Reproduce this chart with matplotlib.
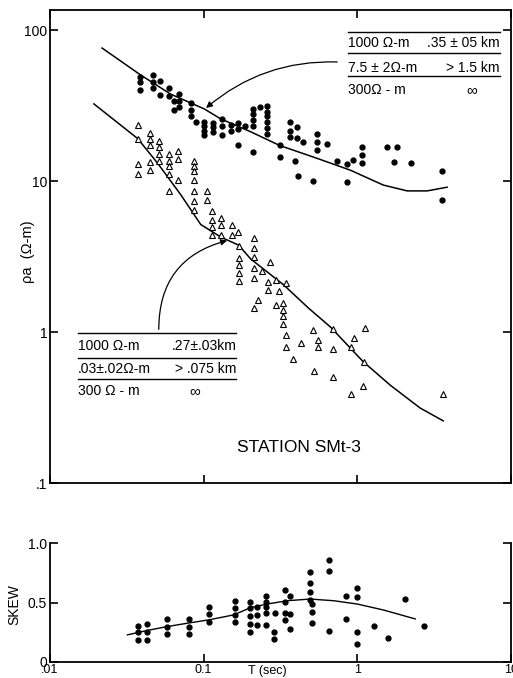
import numpy as np
import matplotlib
matplotlib.use("Agg")
import matplotlib.pyplot as plt

plt.rcParams["font.family"] = ["Liberation Sans", "DejaVu Sans"]

# apparent resistivity, dots (upper set)
dot_t = [0.0384, 0.0384, 0.0384, 0.047, 0.047, 0.047, 0.0518, 0.0518, 0.0597, 0.0597,
         0.0638, 0.069, 0.069, 0.0638, 0.069, 0.083, 0.083, 0.083, 0.0887,
         0.101, 0.101, 0.101, 0.101, 0.115, 0.115, 0.115, 0.132, 0.132, 0.132,
         0.15, 0.15, 0.168, 0.168, 0.187, 0.208, 0.208, 0.208, 0.208, 0.234, 0.168, 0.208,
         0.26, 0.26, 0.26, 0.26, 0.26, 0.26, 0.312, 0.312,
         0.362, 0.362, 0.407, 0.362, 0.407, 0.446, 0.395, 0.414, 0.518,
         0.547, 0.547, 0.547, 0.638, 0.741, 0.861, 0.861, 0.942, 1.077, 1.077, 1.077,
         1.566, 1.82, 1.74, 2.24, 3.56, 3.56]
dot_rho = [49, 45, 40, 50, 45, 41, 46, 37, 41, 36.5,
           33.8, 37.6, 33.8, 29.5, 31, 32.8, 29.5, 27, 24.7,
           24.7, 23.2, 21.5, 20.3, 24.3, 22.9, 21.2, 20.3, 25.8, 23.2,
           23.6, 21.5, 24.3, 22.2, 23.2, 30, 27.8, 25.4, 23.2, 31, 17.2, 15.5,
           31.4, 28.7, 27, 24.7, 22.5, 20.6, 17.2, 14.4,
           24.7, 21.5, 22.9, 19.7, 19.4, 18.2, 13.5, 10.8, 10,
           20.6, 18, 16, 17.5, 13.5, 12.9, 9.8, 13.7, 16.9, 14.8, 13.1,
           16.9, 16.9, 13.3, 13.1, 11.6, 7.5]

# apparent resistivity, triangles (lower set)
tri_t = [0.0376, 0.0376, 0.0376, 0.0376, 0.0446, 0.0446, 0.0446, 0.0446, 0.0446,
         0.0514, 0.0514, 0.0514, 0.0514, 0.0593, 0.0593, 0.0593, 0.0593,
         0.0678, 0.0678, 0.0678, 0.0593,
         0.0861, 0.0861, 0.0861, 0.0861, 0.0861, 0.0861, 0.0861, 0.1045, 0.1045,
         0.114, 0.114, 0.114, 0.114, 0.13, 0.13, 0.13, 0.152, 0.152, 0.166, 0.171,
         0.211, 0.211, 0.211, 0.211, 0.211, 0.171, 0.171, 0.171, 0.171,
         0.272, 0.241, 0.261, 0.261, 0.294, 0.307, 0.344,
         0.227, 0.211, 0.294, 0.33, 0.33, 0.33, 0.33, 0.344, 0.344,
         0.427, 0.384, 0.511, 0.558, 0.558, 0.693, 0.693,
         0.526, 0.693, 0.956, 0.914, 1.13, 1.11, 1.09, 0.914, 3.62]
tri_rho = [23.6, 19.1, 12.9, 11.1, 20.9, 19.1, 17.2, 13.3, 11.8,
           18.3, 16.9, 15.2, 13.5, 15.0, 13.5, 12.5, 11.1,
           15.7, 13.9, 10.2, 8.6,
           13.5, 12.5, 11.6, 10.2, 8.6, 7.4, 6.46, 8.6, 7.5,
           6.36, 5.56, 4.93, 4.37, 5.73, 5.15, 4.37, 5.15, 4.37, 4.57, 3.71,
           4.18, 3.60, 3.14, 2.66, 2.29, 3.09, 2.78, 2.47, 2.19,
           2.91, 2.54, 2.15, 1.91, 2.22, 1.88, 2.12,
           1.62, 1.44, 1.50, 1.55, 1.39, 1.27, 1.13, 0.955, 0.798,
           0.847, 0.667, 1.03, 0.887, 0.798, 0.774, 1.05,
           0.548, 0.50, 0.914, 0.798, 1.06, 0.637, 0.438, 0.39, 0.39]

# model curves
upper_t = [0.0218, 0.0384, 0.061, 0.101, 0.129, 0.202, 0.312, 0.55, 0.90, 1.475, 2.11, 2.85, 3.84]
upper_rho = [76, 50.8, 37.6, 30, 25.8, 21.2, 17.2, 14.1, 11.8, 9.4, 8.6, 8.6, 9.1]
lower_t = [0.0193, 0.0372, 0.0502, 0.071, 0.0957, 0.13, 0.169, 0.202, 0.33, 0.481, 0.668,
           1.09, 1.64, 2.56, 3.62]
lower_rho = [32.4, 19.1, 13.1, 8.1, 5.15, 4.24, 3.76, 3.05, 2.06, 1.44, 1.08,
             0.637, 0.444, 0.314, 0.258]

# skew
skew_t = [0.0371, 0.0371, 0.0371, 0.0429, 0.0429, 0.0429, 0.0573, 0.0573, 0.0573,
          0.0804, 0.0804, 0.0804, 0.108, 0.108, 0.108, 0.160, 0.160, 0.160, 0.160,
          0.200, 0.200, 0.200, 0.200, 0.200, 0.223, 0.223, 0.223,
          0.253, 0.253, 0.253, 0.253, 0.253, 0.288, 0.288, 0.292,
          0.340, 0.340, 0.340, 0.340, 0.364, 0.364, 0.364,
          0.49, 0.49, 0.49, 0.49, 0.508, 0.508, 0.508,
          0.652, 0.652, 0.652, 0.85, 0.85, 1.0, 1.0, 1.0, 1.0,
          1.29, 1.58, 2.05, 2.70]
skew_val = [0.306, 0.256, 0.187, 0.318, 0.251, 0.187, 0.362, 0.292, 0.234,
            0.362, 0.292, 0.234, 0.465, 0.404, 0.334, 0.513, 0.451, 0.396, 0.340,
            0.507, 0.451, 0.387, 0.320, 0.248, 0.460, 0.396, 0.312,
            0.554, 0.507, 0.460, 0.409, 0.312, 0.248, 0.192, 0.409,
            0.604, 0.507, 0.415, 0.354, 0.554, 0.404, 0.278,
            0.758, 0.660, 0.591, 0.521, 0.487, 0.423, 0.326,
            0.861, 0.766, 0.262, 0.554, 0.359, 0.618, 0.549, 0.248, 0.153,
            0.306, 0.201, 0.529, 0.306]
skew_curve_t = [0.0319, 0.0429, 0.0581, 0.0784, 0.108, 0.157, 0.202, 0.259, 0.349, 0.493,
                0.702, 1.0, 1.48, 2.38]
skew_curve = [0.228, 0.265, 0.298, 0.326, 0.354, 0.396, 0.457, 0.487, 0.515, 0.529,
              0.515, 0.487, 0.437, 0.362]

x_ticks = [0.01, 0.1, 1, 10]
x_labels = [".01", "0.1", "1", "10"]
rho_ticks = [0.1, 1, 10, 100]
rho_labels = [".1", "1", "10", "100"]
skew_ticks = [0, 0.5, 1.0]
skew_labels = ["0", "0.5", "1.0"]

top_box = [["1000 Ω-m", ".35 ± 05 km"], ["7.5 ± 2Ω-m", "> 1.5 km"], ["300Ω - m", "∞"]]
low_box = [["1000 Ω-m", ".27±.03km"], [".03±.02Ω-m", "> .075 km"], ["300 Ω - m", "∞"]]

fig = plt.figure(figsize=(5.13, 6.78), dpi=100, facecolor="white")
ax1 = fig.add_axes([0.0975, 0.2876, 0.8986, 0.6976])
ax2 = fig.add_axes([0.0975, 0.0236, 0.8986, 0.1755])

for ax in (ax1, ax2):
    ax.set_xscale("log")
    ax.set_xlim(0.01, 10)
    ax.xaxis.set_minor_locator(matplotlib.ticker.NullLocator())
    for s in ax.spines.values():
        s.set_linewidth(1.3)
    ax.tick_params(direction="in", length=6, width=1.2, labelsize=10, pad=2)

# upper panel
ax1.set_yscale("log")
ax1.set_ylim(0.1, 135.6)
ax1.yaxis.set_minor_locator(matplotlib.ticker.NullLocator())
ax1.set_yticks(rho_ticks)
ax1.set_yticklabels(rho_labels)
ax1.set_xticks(x_ticks)
ax1.set_xticklabels([])
ax1.tick_params(top=True, right=True)
ax1.plot(upper_t, upper_rho, color="black", lw=1.1)
ax1.plot(lower_t, lower_rho, color="black", lw=1.1)
ax1.plot(dot_t, dot_rho, "o", ms=3.5, color="black")
ax1.plot(tri_t, tri_rho, "^", ms=4, mfc="white", mec="black", mew=0.8)

# layer tables
def draw_table(ax, rows, x0, x1, line_y, text_y, inf_x):
    for y in line_y:
        ax.plot([x0, x1], [y, y], color="black", lw=1.0, transform=ax.transAxes)
    for (left, right), y in zip(rows, text_y):
        ax.text(x0, y, left, transform=ax.transAxes, fontsize=10, va="center", ha="left")
        if right == "∞":
            ax.text(inf_x, y, right, transform=ax.transAxes, fontsize=11, va="center", ha="center")
        else:
            ax.text(x1, y, right, transform=ax.transAxes, fontsize=10, va="center", ha="right")

draw_table(ax1, top_box, 0.646, 0.976, [0.953, 0.909, 0.860], [0.930, 0.877, 0.831], 0.915)
draw_table(ax1, low_box, 0.061, 0.404, [0.317, 0.264, 0.220], [0.290, 0.241, 0.1945], 0.3145)

ax1.annotate("", xy=(0.334, 0.789), xycoords="axes fraction", xytext=(0.629, 0.890),
             textcoords="axes fraction",
             arrowprops=dict(arrowstyle="-|>", color="black", lw=0.9, mutation_scale=9,
                             connectionstyle="arc3,rad=0.2"))
ax1.annotate("", xy=(0.390, 0.514), xycoords="axes fraction", xytext=(0.236, 0.319),
             textcoords="axes fraction",
             arrowprops=dict(arrowstyle="-|>", color="black", lw=0.9, mutation_scale=9,
                             connectionstyle="arc3,rad=-0.4"))

ax1.text(0.540, 0.076, "STATION SMt-3", transform=ax1.transAxes, fontsize=12.5,
         ha="center", va="center")
fig.text(28 / 513, 1 - 252 / 678, "ρa  (Ω-m)", rotation=90, fontsize=10.5,
         ha="center", va="center")

# skew panel
ax2.set_ylim(0, 1.0)
ax2.spines["top"].set_visible(False)
ax2.set_yticks(skew_ticks)
ax2.set_yticklabels(skew_labels)
ax2.set_xticks(x_ticks)
ax2.set_xticklabels(x_labels)
ax2.tick_params(right=True)
ax2.tick_params(axis="x", labelsize=9, pad=1.5)
ax2.plot(skew_curve_t, skew_curve, color="black", lw=1.0)
ax2.plot(skew_t, skew_val, "o", ms=3.5, color="black")
fig.text(14 / 513, 1 - 605 / 678, "SKEW", rotation=90, fontsize=10, ha="center", va="center")
fig.text(267 / 513, 1 - 671 / 678, "T (sec)", fontsize=9, ha="center", va="center")

fig.savefig("out.png", dpi=100, facecolor="white")
